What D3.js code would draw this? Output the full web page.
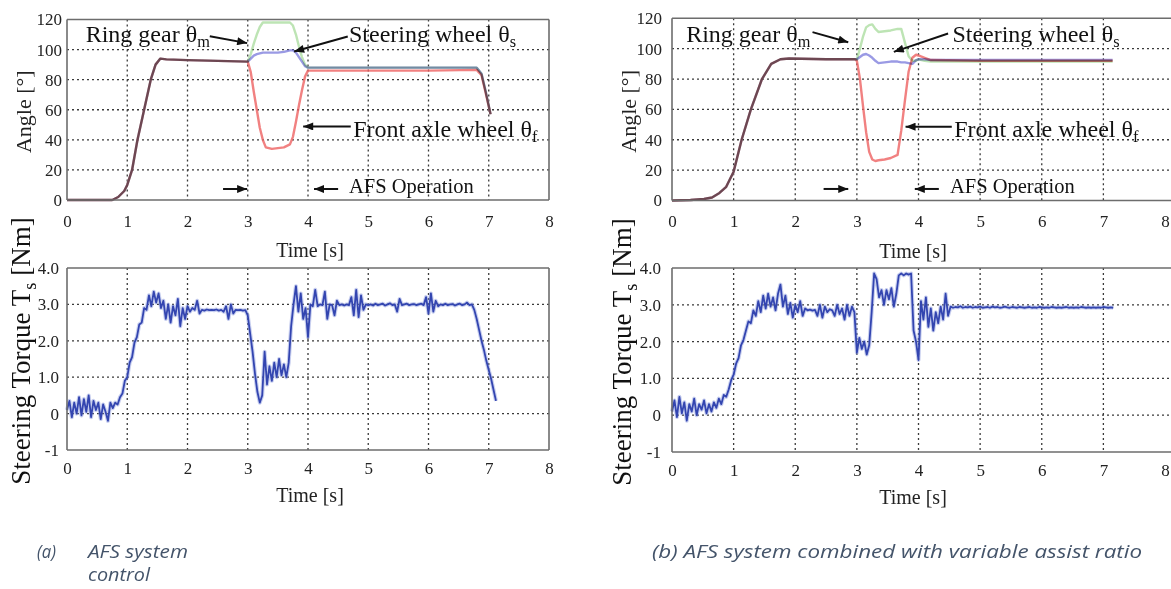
<!DOCTYPE html>
<html><head><meta charset="utf-8">
<script src="https://cdn.jsdelivr.net/npm/d3@7"></script>
<style>
html,body{margin:0;padding:0;background:#fff;}
svg{display:block;}
</style></head><body>
<svg id="fig" width="1171" height="589"></svg>
<script>
// ---- axis ticks ----
const timeTicks = [0, 1, 2, 3, 4, 5, 6, 7, 8];
const angleTicks = [0, 20, 40, 60, 80, 100, 120];
const torqueTicks = [-1, 0, 1, 2, 3, 4];
const torqueTickLabels = ["-1", "0", "1.0", "2.0", "3.0", "4.0"];

// ---- (a) AFS system control: angle traces [deg] ----
const angleTimeA = [0, 0.5, 0.75, 0.85, 0.95, 1.0, 1.08, 1.17, 1.28, 1.39,
  1.47, 1.55, 1.65, 2.0, 2.5, 3.0, 3.05, 3.1, 3.15, 3.2,
  3.25, 3.3, 3.4, 3.5, 3.6, 3.7, 3.75, 3.8, 3.85, 3.9,
  3.95, 4.0, 4.2, 5.0, 6.0, 6.8, 6.88, 6.95, 7.03];
const frontWheelA = [0, 0, 0, 2, 6, 10, 20, 40, 60, 80,
  90, 94, 93.5, 93, 92.5, 92, 85, 72, 60, 48,
  40, 35, 34, 34.5, 35, 37, 42, 52, 63, 73,
  82, 86, 86, 86, 86, 86.5, 83, 71, 57];
const ringGearA = [0, 0, 0, 2, 6, 10, 20, 40, 60, 80,
  90, 94, 93.5, 93, 92.5, 92, 97, 104, 110, 115,
  118, 118, 118, 118, 118, 118, 116, 110, 102, 95,
  90, 88, 88, 88, 88, 88, 84, 72, 57];
const steeringWheelA = [0, 0, 0, 2, 6, 10, 20, 40, 60, 80,
  90, 94, 93.5, 93, 92.5, 92, 94, 96, 97, 97.5,
  98, 98, 98, 98, 98.5, 99.5, 99.5, 98, 95, 92,
  89, 88, 88, 88, 88, 88, 84, 72, 57];

// ---- (b) AFS combined with variable assist ratio: angle traces [deg] ----
const angleTimeB = [0, 0.3, 0.52, 0.65, 0.77, 0.88, 1.0, 1.13, 1.28, 1.46,
  1.61, 1.76, 1.9, 2.5, 2.97, 3.0, 3.05, 3.1, 3.15, 3.2,
  3.25, 3.3, 3.35, 3.45, 3.55, 3.66, 3.72, 3.78, 3.84, 3.9,
  3.96, 4.0, 4.1, 4.2, 5.0, 6.0, 7.15];
const frontWheelB = [0, 0.3, 1, 2, 5, 9, 19, 40, 60, 80,
  90, 93, 93.5, 93, 93, 92, 80, 62, 45, 32,
  27, 26, 26.5, 27, 28, 30, 46, 66, 85, 94,
  96, 95.5, 94, 92.5, 92, 92, 92];
const ringGearB = [0, 0.3, 1, 2, 5, 9, 19, 40, 60, 80,
  90, 93, 93.5, 93, 93, 93, 100, 108, 114, 115.5,
  116, 113, 111, 111.5, 112, 113, 113, 104, 95, 92,
  92, 93, 92, 91.5, 91.5, 91.5, 91.5];
const steeringWheelB = [0, 0.3, 1, 2, 5, 9, 19, 40, 60, 80,
  90, 93, 93.5, 93, 93, 93, 94.5, 96, 96.5, 95.5,
  94, 92, 90.5, 91, 91.5, 91.5, 91, 91, 90.5, 90,
  92.5, 93, 93, 92.5, 92.5, 92.5, 92.5];

// ---- steering torque [Nm], sampled every 0.04 s ----
const torqueStep = 0.04;
const torqueA = [
  0.1, 0.35, -0.1, 0.3, 0.0, 0.45, -0.05, 0.4, 0.05, 0.5, -0.1, 0.35, 0.1, 0.3, -0.15, 0.25, 0.05, -0.2, 0.3,
  0.15, 0.3, 0.25, 0.45,
  0.55, 0.9, 1.0, 1.4, 1.55, 1.95, 2.1, 2.45, 2.5, 2.9,
  2.85, 3.25, 2.95, 3.35, 3.05, 3.3, 2.9,
  3.1, 2.6, 3.0, 2.5, 2.95, 2.7, 3.15, 2.4, 2.9, 2.6, 2.95,
  2.8, 2.9, 2.85, 3.1, 2.75, 2.85, 2.83, 2.86, 2.84, 2.85, 2.84, 2.86, 2.83, 2.85, 2.8, 2.95, 2.6, 3.0, 2.75, 2.85, 2.84, 2.85, 2.83, 2.84,
  2.7, 2.2, 1.7, 1.1, 0.6, 0.3, 0.5,
  1.7, 0.8, 1.3, 0.9, 1.4, 1.0, 1.5, 1.05, 1.35, 1.0,
  1.4, 2.4, 3.0, 3.5, 2.8,
  3.3, 2.6, 2.9, 2.1, 3.0, 2.95, 3.4,
  2.95, 3.0, 2.98, 3.35, 2.6, 3.0, 2.98, 2.7, 3.1, 2.98,
  3.0, 2.97, 3.0, 2.98, 3.2, 2.7, 3.4, 2.65, 3.25, 2.85,
  3.0, 2.98, 3.0, 2.97, 3.02, 2.98, 3.0, 3.02, 2.97, 3.0,
  3.03, 2.98, 3.0, 2.8, 3.15, 2.98, 3.0, 3.02, 2.98, 3.0,
  3.01, 2.98, 3.0, 3.02, 2.98, 3.2, 2.75, 3.3, 2.8, 3.1,
  2.95, 3.0, 2.98, 3.02, 2.98, 3.0, 3.01, 2.97, 3.0, 3.02,
  2.98, 3.0, 3.05, 2.98, 3.0,
  2.85, 2.6, 2.3, 2.0, 1.75, 1.45, 1.2, 0.95, 0.65, 0.35];
const torqueB = [
  0.1, 0.4, -0.05, 0.5, 0.05, 0.35, -0.15, 0.3, 0.1, 0.45, 0.0, 0.3, 0.15, 0.4, 0.05, 0.3, 0.1, 0.35,
  0.2, 0.45, 0.3, 0.55, 0.5,
  0.7, 0.95, 1.1, 1.4, 1.55, 1.9, 2.05, 2.3, 2.55, 2.5, 2.85,
  2.7, 3.1, 2.8, 3.25, 2.9, 3.3, 2.95, 3.2, 2.85, 3.3, 3.55, 2.95, 3.25, 2.75,
  3.05, 2.65, 3.0, 2.8, 3.1, 2.7, 2.9, 2.85,
  2.87, 2.84, 2.86, 2.7, 3.0, 2.65, 2.95, 2.8, 2.88, 2.85, 2.7, 3.0, 2.75, 2.9, 2.6, 3.0, 2.7, 2.95, 2.8,
  1.7, 2.1, 1.8, 2.0, 1.65, 1.9,
  2.8, 3.85, 3.7, 3.2,
  3.4, 3.0, 3.4, 3.15, 3.45, 2.95, 3.3, 3.8,
  3.85, 3.8, 3.85, 3.82, 3.85,
  2.3, 2.0, 1.5, 3.1,
  2.6, 3.2, 2.4, 2.9, 2.3, 2.8, 2.5, 2.95, 2.6, 3.3, 2.7,
  2.95, 2.92, 2.94, 2.93, 2.96, 2.92, 2.94, 2.93, 2.95, 2.92,
  2.94, 2.93, 2.95, 2.92, 2.93, 2.94, 2.92, 2.95, 2.93, 2.94,
  2.92, 2.93, 2.95, 2.93, 2.92, 2.94, 2.93, 2.92, 2.94, 2.93,
  2.92, 2.93, 2.94, 2.92, 2.93, 2.92, 2.94, 2.93, 2.92, 2.93,
  2.92, 2.94, 2.93, 2.92, 2.93, 2.92, 2.93, 2.94, 2.92, 2.93,
  2.92, 2.93, 2.92, 2.94, 2.93, 2.92, 2.93, 2.92, 2.93, 2.92,
  2.93, 2.92, 2.94, 2.93, 2.92, 2.93, 2.92];

// ---- annotation text ----
const ringLabel = ["Ring gear θ", "m"];
const steerLabel = ["Steering wheel θ", "s"];
const frontLabel = ["Front axle wheel θ", "f"];
const afsLabel = "AFS Operation";
const captionA = ["(a)", "AFS system", "control"];
const captionB = "(b) AFS system combined with variable assist ratio";

// ---- drawing ----
const SERIF = "'Liberation Serif', 'Times New Roman', serif";
const svg = d3.select("#fig");

const defs = svg.append("defs");
defs.append("marker")
  .attr("id", "head")
  .attr("viewBox", "0 0 10 8")
  .attr("refX", 10).attr("refY", 4)
  .attr("markerWidth", 11).attr("markerHeight", 8)
  .attr("markerUnits", "userSpaceOnUse")
  .attr("orient", "auto")
  .append("path").attr("d", "M0,0 L10,4 L0,8 Z").attr("fill", "#111");

function frame(g, x, y, openRight) {
  const [x0, x1] = x.range();
  const [yb, yt] = y.range();
  const right = openRight ? 1171 : x1;
  const f = g.append("g").attr("stroke", "#6d6d6d").attr("stroke-width", 1.6).attr("fill", "none");
  f.append("line").attr("x1", x0).attr("x2", right).attr("y1", yt).attr("y2", yt);
  f.append("line").attr("x1", x0).attr("x2", right).attr("y1", yb).attr("y2", yb);
  f.append("line").attr("x1", x0).attr("x2", x0).attr("y1", yt).attr("y2", yb);
  if (!openRight) f.append("line").attr("x1", x1).attr("x2", x1).attr("y1", yt).attr("y2", yb);
}

function grid(g, x, y, xVals, yVals, openRight) {
  const [x0, x1] = x.range();
  const [yb, yt] = y.range();
  const right = openRight ? 1171 : x1;
  const gg = g.append("g").attr("stroke", "#3a3a3a").attr("stroke-width", 1.3)
    .attr("stroke-dasharray", "2,3");
  gg.selectAll(".v").data(xVals).join("line")
    .attr("x1", d => x(d)).attr("x2", d => x(d)).attr("y1", yt).attr("y2", yb);
  gg.selectAll(".h").data(yVals).join("line")
    .attr("x1", x0).attr("x2", right).attr("y1", d => y(d)).attr("y2", d => y(d));
}

function tickLabels(g, x, y, yVals, yFmt, yPad, xPad) {
  const ya = d3.axisLeft(y).tickValues(yVals).tickSize(0).tickPadding(yPad).tickFormat(yFmt);
  const xa = d3.axisBottom(x).tickValues(timeTicks).tickSize(0).tickPadding(xPad).tickFormat(d3.format("d"));
  const gy = g.append("g").attr("transform", `translate(${x.range()[0]},0)`).call(ya);
  const gx = g.append("g").attr("transform", `translate(0,${y.range()[0]})`).call(xa);
  [gy, gx].forEach(a => {
    a.select(".domain").remove();
    a.attr("font-family", SERIF).attr("font-size", 17);
    a.selectAll("text").style("font-family", SERIF).style("font-size", "17px").attr("fill", "#222");
  });
}

function subText(g, x, y, parts, size, anchor, rotate) {
  const t = g.append("text")
    .attr("font-family", SERIF).attr("font-size", size).attr("fill", "#111")
    .attr("text-anchor", anchor || "start")
    .attr("transform", `translate(${x},${y})` + (rotate ? ` rotate(${rotate})` : ""));
  t.append("tspan").text(parts[0]);
  if (parts.length > 1) {
    t.append("tspan").attr("font-size", size * 0.68).attr("dy", size * 0.22).text(parts[1]);
    if (parts.length > 2) t.append("tspan").attr("dy", -size * 0.22).text(parts[2]);
  }
  return t;
}

function arrow(g, x, y, a, b) {
  g.append("line")
    .attr("x1", x(a[0])).attr("y1", y(a[1]))
    .attr("x2", x(b[0])).attr("y2", y(b[1]))
    .attr("stroke", "#111").attr("stroke-width", 2)
    .attr("marker-end", "url(#head)");
}

function anglePanel(cfg) {
  const g = svg.append("g");
  const x = d3.scaleLinear().domain([0, 8]).range(cfg.xr);
  const y = d3.scaleLinear().domain([0, 120]).range(cfg.yr);
  grid(g, x, y, timeTicks.slice(1, -1), angleTicks.slice(1, -1), cfg.openRight);

  const line = d3.line().x(d => x(d[0])).y(d => y(d[1])).curve(d3.curveLinear);
  const series = [
    { v: cfg.steer, c: "#6f6fd8", o: 0.7 },
    { v: cfg.ring, c: "#86ce76", o: 0.55 },
    { v: cfg.front, c: "#ee6262", o: 0.8 }
  ];
  // overlapping traces darken each other, as on a printed plot
  const traces = g.append("g").style("isolation", "isolate");
  series.forEach(s => {
    traces.append("path")
      .datum(cfg.t.map((t, i) => [t, s.v[i]]))
      .attr("d", line).attr("fill", "none")
      .attr("stroke", s.c).attr("stroke-width", 2.4).attr("stroke-opacity", s.o)
      .attr("stroke-linejoin", "round")
      .style("mix-blend-mode", "multiply");
  });

  frame(g, x, y, cfg.openRight);
  tickLabels(g, x, y, angleTicks, d3.format("d"), cfg.yPad, cfg.xPad);

  // axis titles
  g.append("text").attr("font-family", SERIF).attr("font-size", 22).attr("fill", "#222")
    .attr("text-anchor", "middle")
    .attr("transform", `translate(${cfg.titleX},${(cfg.yr[0] + cfg.yr[1]) / 2 + 2}) rotate(-90)`)
    .text("Angle [°]");
  g.append("text").attr("font-family", SERIF).attr("font-size", 20).attr("fill", "#222")
    .attr("text-anchor", "middle").attr("x", cfg.timeX).attr("y", cfg.yr[0] + 57)
    .text("Time [s]");

  // annotations
  const n = cfg.notes;
  subText(g, x(n.ring[0]), y(n.ring[1]), ringLabel, 24);
  subText(g, x(n.steer[0]), y(n.steer[1]), steerLabel, 24);
  subText(g, x(n.front[0]), y(n.front[1]), frontLabel, 24);
  subText(g, x(n.afs[0]), y(n.afs[1]), [afsLabel], 20.5);
  n.arrows.forEach(a => arrow(g, x, y, a[0], a[1]));
}

function torquePanel(cfg) {
  const g = svg.append("g");
  const x = d3.scaleLinear().domain([0, 8]).range(cfg.xr);
  const y = d3.scaleLinear().domain([-1, 4]).range(cfg.yr);
  grid(g, x, y, timeTicks.slice(1, -1), torqueTicks.slice(1, -1), cfg.openRight);

  const line = d3.line().x((d, i) => x(i * torqueStep)).y(d => y(d));
  g.append("path").datum(cfg.values).attr("d", line).attr("fill", "none")
    .attr("stroke", "#8494dc").attr("stroke-width", 4).attr("stroke-opacity", 0.45)
    .attr("stroke-linejoin", "round");
  g.append("path").datum(cfg.values).attr("d", line).attr("fill", "none")
    .attr("stroke", "#3345b0").attr("stroke-width", 1.8)
    .attr("stroke-linejoin", "round");

  frame(g, x, y, cfg.openRight);
  tickLabels(g, x, y, torqueTicks, d => torqueTickLabels[torqueTicks.indexOf(d)], cfg.yPad, cfg.xPad);

  subText(g, cfg.titleX, (cfg.yr[0] + cfg.yr[1]) / 2 - 8, ["Steering Torque T", "s", " [Nm]"], 27, "middle", -90);
  g.append("text").attr("font-family", SERIF).attr("font-size", 20).attr("fill", "#222")
    .attr("text-anchor", "middle").attr("x", cfg.timeX).attr("y", cfg.yr[0] + 52)
    .text("Time [s]");
}

anglePanel({
  xr: [67, 549], yr: [200, 19.5], openRight: false,
  t: angleTimeA, front: frontWheelA, ring: ringGearA, steer: steeringWheelA,
  yPad: 5, xPad: 15, titleX: 31, timeX: 310,
  notes: {
    ring: [0.31, 105.3], steer: [4.68, 105.3], front: [4.75, 42.2], afs: [4.68, 4.9],
    arrows: [
      [[2.37, 108.9], [2.99, 104.3]],
      [[4.66, 108.7], [3.77, 98.7]],
      [[4.71, 48.9], [3.92, 48.9]],
      [[2.59, 7.3], [2.99, 7.3]],
      [[4.5, 7.3], [4.1, 7.3]]
    ]
  }
});

anglePanel({
  xr: [672, 1165], yr: [200.5, 18.3], openRight: true,
  t: angleTimeB, front: frontWheelB, ring: ringGearB, steer: steeringWheelB,
  yPad: 10, xPad: 14.5, titleX: 636, timeX: 913,
  notes: {
    ring: [0.23, 104.3], steer: [4.55, 104.3], front: [4.58, 42], afs: [4.51, 5.1],
    arrows: [
      [[2.28, 110.9], [2.86, 104.2]],
      [[4.48, 110], [3.6, 97.9]],
      [[4.54, 48.6], [3.79, 48.6]],
      [[2.46, 7.6], [2.86, 7.6]],
      [[4.33, 7.6], [3.94, 7.6]]
    ]
  }
});

torquePanel({
  xr: [67, 549], yr: [450, 268], openRight: false, values: torqueA,
  yPad: 8, xPad: 11.5, titleX: 30, timeX: 310
});

torquePanel({
  xr: [672, 1165], yr: [452, 268], openRight: true, values: torqueB,
  yPad: 11, xPad: 11.5, titleX: 631, timeX: 913
});

// ---- captions ----
const CAP = "'Open Sans', 'Noto Sans', sans-serif";
const capG = svg.append("g").attr("font-family", CAP).attr("font-style", "italic")
  .attr("font-size", 18).attr("fill", "#44546a");
capG.append("text").attr("x", 37).attr("y", 558).attr("textLength", 19).attr("lengthAdjust", "spacingAndGlyphs").text(captionA[0]);
capG.append("text").attr("x", 88).attr("y", 558).attr("textLength", 100).attr("lengthAdjust", "spacingAndGlyphs").text(captionA[1]);
capG.append("text").attr("x", 88).attr("y", 581).attr("textLength", 62).attr("lengthAdjust", "spacingAndGlyphs").text(captionA[2]);
capG.append("text").attr("x", 652).attr("y", 558).attr("textLength", 490).attr("lengthAdjust", "spacingAndGlyphs").text(captionB);
</script>
</body></html>
